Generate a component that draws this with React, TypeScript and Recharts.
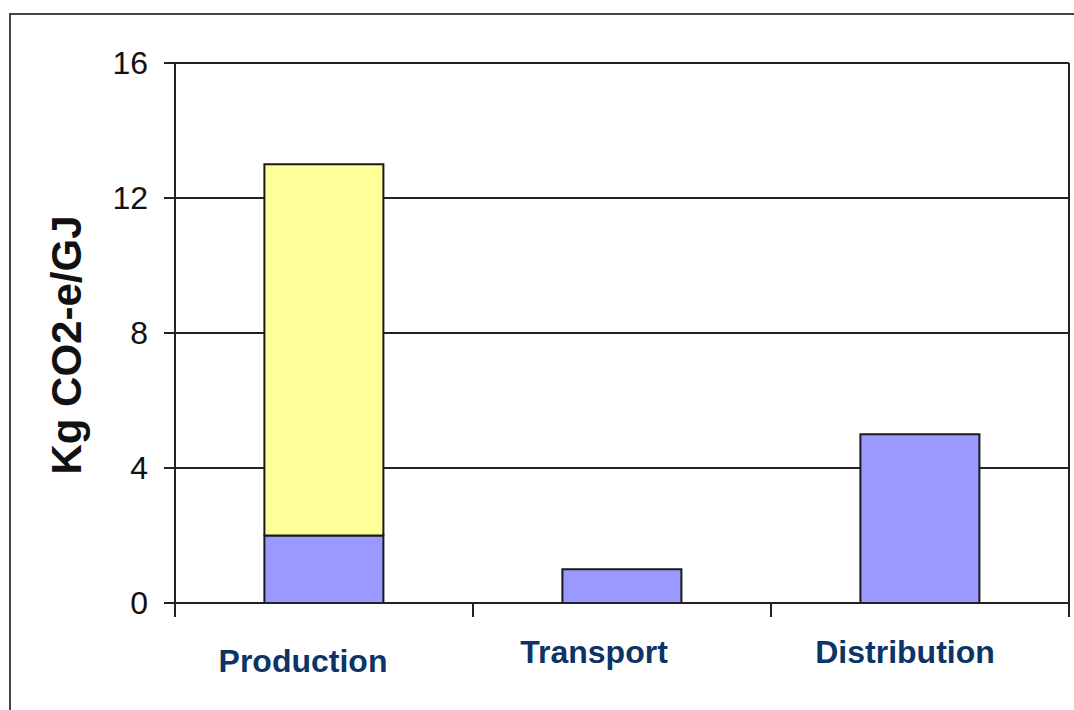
import { BarChart, Bar, XAxis, YAxis, CartesianGrid } from 'recharts'

const categories = ['Production', 'Transport', 'Distribution']
const baseValues = [2, 1, 5]
const upperValues = [11, 0, 0]
const yTicks = [0, 4, 8, 12, 16]

// label nudges, the source labels are not centred under the bars
const labelDx = [-21, -28, -15]
const labelDy = [69, 60, 60]

const data = categories.map((name, i) => ({
  name,
  base: baseValues[i],
  upper: upperValues[i],
}))

const FONT = '"Liberation Sans", Arial, sans-serif'
const LINE = '#222'

function CategoryTick(props: any) {
  const { x, y, payload, index } = props
  const half = payload?.offset ?? 149
  const i = index ?? 0
  return (
    <g>
      <line x1={x - half} x2={x - half} y1={y} y2={y + 14} stroke={LINE} strokeWidth={2} />
      {i === categories.length - 1 && (
        <line x1={x + half} x2={x + half} y1={y} y2={y + 14} stroke={LINE} strokeWidth={2} />
      )}
      <text
        x={x + labelDx[i]}
        y={y + labelDy[i]}
        textAnchor="middle"
        fill="#0c3466"
        fontFamily={FONT}
        fontWeight="bold"
        fontSize={32}
      >
        {payload.value}
      </text>
    </g>
  )
}

export default function App() {
  return (
    <div style={{ position: 'fixed', left: 0, top: 0, width: 1074, height: 710, overflow: 'hidden', background: '#fff' }}>
      <div
        style={{
          position: 'absolute',
          left: 9,
          top: 13,
          width: 1100,
          height: 740,
          border: '2px solid #444',
        }}
      />
      <div style={{ position: 'absolute', left: 0, top: 0 }}>
        <BarChart
          width={1074}
          height={710}
          data={data}
          margin={{ top: 63, right: 4, bottom: 0, left: 0 }}
          barCategoryGap="30%"
        >
          <CartesianGrid vertical={false} stroke={LINE} strokeWidth={2} />
          <XAxis
            dataKey="name"
            axisLine={{ stroke: LINE, strokeWidth: 2 }}
            tickLine={false}
            tickSize={0}
            tickMargin={0}
            tick={<CategoryTick />}
            interval={0}
            height={107}
          />
          <YAxis
            domain={[0, 16]}
            ticks={yTicks}
            width={175}
            axisLine={{ stroke: LINE, strokeWidth: 2 }}
            tickLine={{ stroke: LINE, strokeWidth: 2 }}
            tickSize={11}
            tickMargin={16}
            tick={{ fill: '#111', fontSize: 32, fontFamily: FONT }}
            label={{
              content: () => (
                <text
                  transform="translate(81,345) rotate(-90)"
                  textAnchor="middle"
                  fill="#111"
                  fontFamily={FONT}
                  fontWeight="bold"
                  fontSize={42}
                >
                  Kg CO2-e/GJ
                </text>
              ),
            }}
          />
          <YAxis
            yAxisId="right"
            orientation="right"
            domain={[0, 16]}
            width={1}
            tick={false}
            tickLine={false}
            axisLine={{ stroke: LINE, strokeWidth: 2 }}
          />
          <Bar dataKey="base" stackId="a" fill="#9999ff" stroke="#1a1a1a" strokeWidth={2} isAnimationActive={false} />
          <Bar dataKey="upper" stackId="a" fill="#ffff99" stroke="#1a1a1a" strokeWidth={2} isAnimationActive={false} />
        </BarChart>
      </div>
    </div>
  )
}
